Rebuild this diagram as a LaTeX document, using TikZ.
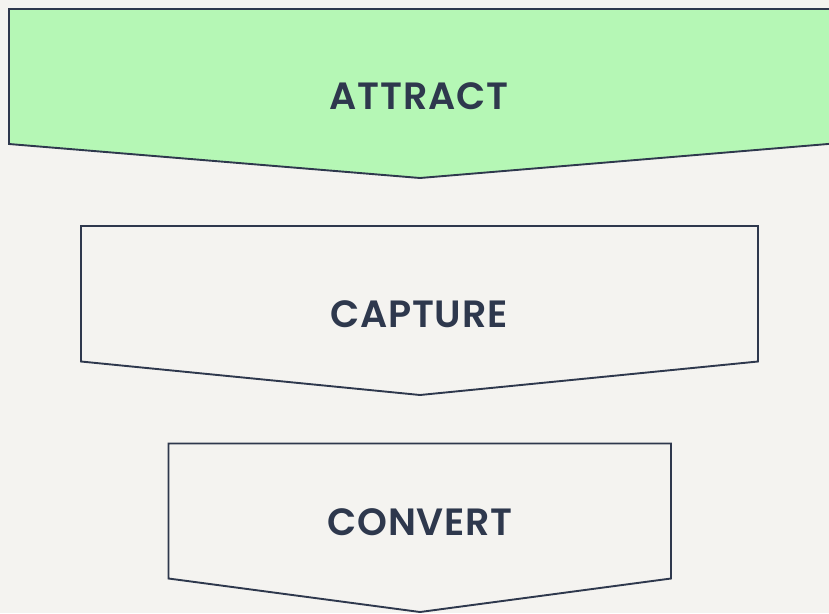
\documentclass[tikz,border=0pt]{standalone}
\usepackage{fontspec}
\setmainfont{Poppins}[BoldFont={Poppins SemiBold},LetterSpace=2]
\definecolor{bgpaper}{HTML}{F4F3F0}
\definecolor{leafgreen}{HTML}{B5F7B5}
\definecolor{inkblue}{HTML}{2E384D}
\begin{document}
\begin{tikzpicture}[x=1pt,y=-1pt,
  stage/.style={draw=inkblue,line width=1.9pt,line join=miter},
  stagelabel/.style={text=inkblue,font=\bfseries\fontsize{38}{42}\selectfont,inner sep=0pt}]
\fill[bgpaper] (0,0) rectangle (829,613);
\useasboundingbox (0,0) rectangle (829,613);
\begin{scope}
\clip (0,0) rectangle (829,613);
% funnel stages, each a box with a pointed lower edge
\draw[stage,fill=leafgreen] (9,9) -- (840,9) -- (840,143) -- (420,178) -- (9,144) -- cycle;
\draw[stage] (81,226) -- (758,226) -- (758,361.5) -- (420,395) -- (81,361.5) -- cycle;
\draw[stage] (168.5,443.5) -- (671,443.5) -- (671,578.5) -- (420,612) -- (168.5,578.5) -- cycle;
\end{scope}
\node[stagelabel] (attract) at (419,96.5) {ATTRACT};
\node[stagelabel] (capture) at (419,314) {CAPTURE};
\node[stagelabel] (convert) at (420,522) {CONVERT};
\end{tikzpicture}
\end{document}
